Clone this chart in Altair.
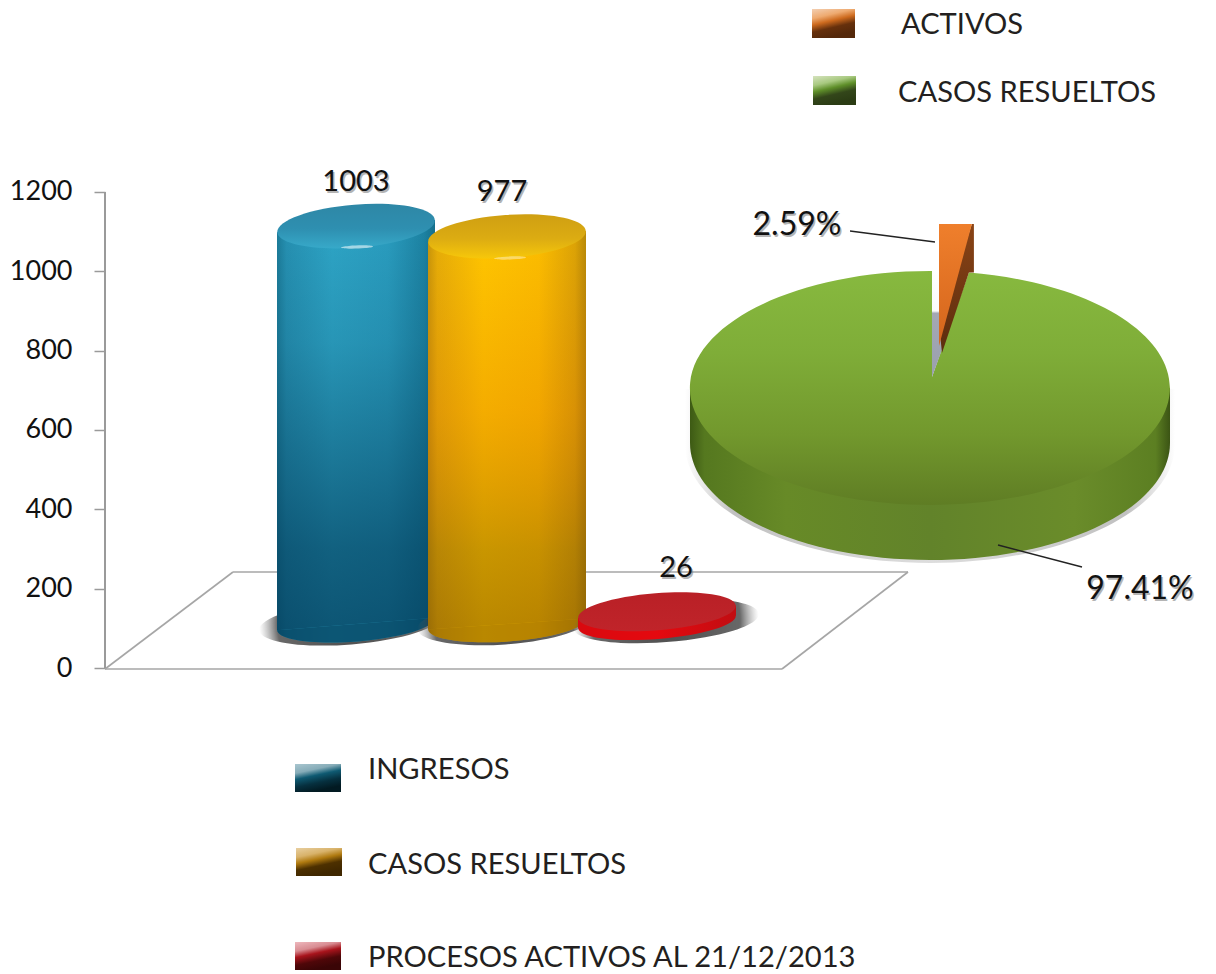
import math
import altair as alt
import pandas as pd

# ---- chart values ----
bar_names = ["INGRESOS", "CASOS RESUELTOS", "PROCESOS ACTIVOS AL 21/12/2013"]
bar_values = [1003, 977, 26]
pie_names = ["ACTIVOS", "CASOS RESUELTOS"]
pie_shares = [2.59, 97.41]
axis_ticks = [0, 200, 400, 600, 800, 1000, 1200]

# ---- layout (page pixels) ----
PX0, PY0, W, H = 105, 8, 1100, 966
Y0, K = 668.0, 0.3967


def V(py):
    return (Y0 - py) / K


xs = alt.Scale(domain=[PX0, PX0 + W], range=[0, W], nice=False, zero=False)
ys = alt.Scale(domain=[V(PY0 + H), V(PY0)], nice=False, zero=False)
X = lambda f="x": alt.X(f"{f}:Q", scale=xs, axis=None)
Yc = lambda f="y": alt.Y(f"{f}:Q", scale=ys, axis=None)


def lin(stops, x1=0, y1=0, x2=0, y2=1):
    return {"gradient": "linear", "x1": x1, "y1": y1, "x2": x2, "y2": y2,
            "stops": [{"offset": o, "color": c} for o, c in stops]}


def rad(stops):
    return {"gradient": "radial", "stops": [{"offset": o, "color": c} for o, c in stops]}


def ell(a, b, rot=0.0):
    r = math.radians(rot)
    dx, dy = a * math.cos(r), a * math.sin(r)
    return (f"M{-dx:.2f},{-dy:.2f} A{a},{b} {rot} 1 1 {dx:.2f},{dy:.2f} "
            f"A{a},{b} {rot} 1 1 {-dx:.2f},{-dy:.2f} Z")


def sym(path, fill, x, py, opacity=1.0):
    d = pd.DataFrame({"x": [x], "y": [V(py)]})
    return alt.Chart(d).mark_point(shape=path, size=4, filled=True, fill=fill, opacity=opacity,
                                   strokeWidth=0).encode(x=X(), y=Yc())


def txt(s, x, py, size, color="#111", align="center", font="Lato", dx=0, dy=0, opacity=1.0, weight=400):
    d = pd.DataFrame({"x": [x], "y": [V(py)], "t": [s]})
    return alt.Chart(d).mark_text(font=font, fontSize=size, color=color, align=align, baseline="middle",
                                  dx=dx, dy=dy, opacity=opacity, fontWeight=weight).encode(
        x=X(), y=Yc(), text="t:N")


def shadow_txt(s, x, py, size, align="center"):
    return [txt(s, x, py, size, color="#777", align=align, dx=1.5, dy=1.5, opacity=0.55),
            txt(s, x, py, size, align=align)]


def line(x1, y1, x2, y2, color="#a6a6a6", w=1.6):
    d = pd.DataFrame({"x": [x1], "x2": [x2], "y": [V(y1)], "y2": [V(y2)]})
    return alt.Chart(d).mark_rule(color=color, strokeWidth=w).encode(
        x=X(), x2="x2:Q", y=Yc(), y2="y2:Q")


def swatch(x1, x2, y1, y2, stops):
    d = pd.DataFrame({"x": [x1], "x2": [x2], "y": [V(y1)], "y2": [V(y2)]})
    return alt.Chart(d).mark_rect(fill=lin(stops, 0, 0, 0.35, 1)).encode(
        x=X(), x2="x2:Q", y=Yc(), y2="y2:Q")


def cylinder(value, cx, a, b, bb, rot, base_y, side, vert, end_overlay, capfill, shadow):
    tilt = a * math.tan(math.radians(-rot)) / K
    base = V(base_y)
    top = base + value
    d = pd.DataFrame({"x": [cx - a, cx + a],
                      "y": [top - tilt, top + tilt],
                      "y2": [base - tilt, base + tilt]})
    py_top = Y0 - top * K
    out = []
    if shadow:
        out.append(sym(ell(a + shadow[0], bb + 4, rot),
                       rad([(0, "rgba(30,30,30,0.8)"), (0.8, "rgba(40,40,40,0.7)"), (1, "rgba(110,110,110,0)")]),
                       cx + shadow[1], base_y - 1))
    sidefill = lin(side, 0, 0, 1, 0)
    out.append(sym(ell(a, bb, rot), sidefill, cx, base_y))
    if end_overlay:
        out.append(sym(ell(a, bb, rot), end_overlay, cx, base_y))
    out.append(alt.Chart(d).mark_area(fill=sidefill).encode(x=X(), y=Yc(), y2="y2:Q"))
    if vert:
        out.append(alt.Chart(d).mark_area(fill=lin(vert)).encode(x=X(), y=Yc(), y2="y2:Q"))
    out.append(sym(ell(a, b, rot), capfill, cx, py_top))
    return out


layers = []

# axis first so that its ticks and labels exist as a real axis
dticks = pd.DataFrame({"x": [105] * len(axis_ticks), "v": axis_ticks})
layers.append(alt.Chart(dticks).mark_point(opacity=0).encode(
    x=X(),
    y=alt.Y("v:Q", scale=ys, axis=alt.Axis(values=axis_ticks, title=None, domain=False, grid=False, orient="left",
                                           tickSize=11, tickColor="#9a9a9a", tickWidth=1.5,
                                           labelFont="Lato", labelFontSize=27, labelColor="#111",
                                           labelPadding=22, labelBaseline="middle", labelFlush=False,
                                           labelOverlap=False, format="d"))))

# floor and value axis line
layers += [line(105, 669, 233, 572), line(233, 572, 908, 572),
           line(908, 572, 782, 669), line(782, 669, 105, 669)]
dax = pd.DataFrame({"x": [105], "y": [0], "y2": [1200]})
layers.append(alt.Chart(dax).mark_rule(color="#9a9a9a", strokeWidth=2).encode(x=X(), y=Yc(), y2="y2:Q"))

# teal cylinder
layers += cylinder(bar_values[0], 356, 79, 21.5, 17.5, -4.5, 624,
                   [(0, "#1c7c99"), (0.06, "#2691b2"), (0.35, "#2ea5c6"), (0.7, "#2a9dbf"),
                    (0.93, "#1d83a3"), (1, "#15708c")],
                   [(0, "rgba(0,55,85,0)"), (0.3, "rgba(0,55,85,0.14)"), (0.8, "rgba(0,55,85,0.62)"),
                    (1, "rgba(0,55,85,0.72)")],
                   "rgba(0,55,85,0.72)",
                   lin([(0, "#2e87a6"), (0.55, "#2e8fb0"), (1, "#37a9c9")]),
                   (12, -6))
layers.append(sym(ell(16, 1.6, -2), "rgba(255,255,255,0.55)", 357, 247))

# gold cylinder
layers += cylinder(bar_values[1], 507, 79, 21.5, 17.5, -4, 624,
                   [(0, "#c8960a"), (0.06, "#e6ae08"), (0.35, "#ffc600"), (0.7, "#fcbe00"),
                    (0.93, "#dca406"), (1, "#b98a08")],
                   [(0, "rgba(200,70,0,0)"), (0.45, "rgba(200,70,0,0.2)"), (0.8, "rgba(100,60,0,0.35)"),
                    (1, "rgba(100,60,0,0.45)")],
                   "rgba(100,60,0,0.45)",
                   lin([(0, "#cf9f12"), (0.55, "#dcac12"), (1, "#f7c70a")]),
                   (8, -3))
layers.append(sym(ell(16, 1.6, -2), "rgba(255,255,255,0.4)", 510, 258))

# red disc
layers += cylinder(bar_values[2], 657, 79, 18.5, 17, -4.5, 622,
                   [(0, "#d9090f"), (0.5, "#e5090f"), (1, "#c10d12")],
                   None, None,
                   lin([(0, "#b92026"), (1, "#c0242a")]),
                   (14, 9))

# pie
CX, CY, A, B, DEPTH = 930, 388, 240, 117, 55
s0 = pie_shares[0] / 100
ang = 2 * math.pi * s0
rim_x = A * math.sin(ang)
rim_y = -B * math.cos(ang)
apx, apy = 2, -11  # apex of notch relative to pie centre

side_path = f"M{-A},0 L{-A},{DEPTH} A{A},{B} 0 0 0 {A},{DEPTH} L{A},0 Z"
top_path = f"M{apx},{apy} L{rim_x:.2f},{rim_y:.2f} A{A},{B} 0 1 1 {apx},{-B} Z"

layers.append(sym(f"M{-A-5},0 L{-A-5},{DEPTH} A{A+5},{B+2} 0 0 0 {A+5},{DEPTH} L{A+5},0 Z",
                  lin([(0, "rgba(130,130,130,0)"), (0.1, "rgba(130,130,130,0.5)"), (0.5, "rgba(170,170,170,0.4)"),
                       (0.9, "rgba(130,130,130,0.5)"), (1, "rgba(130,130,130,0)")], 0, 0, 1, 0),
                  CX, CY + 1))
layers.append(sym(side_path, lin([(0, "#3d5a14"), (0.03, "#55781f"), (0.2, "#678a27"), (0.5, "#62832a"),
                                  (0.8, "#6a8c2a"), (0.97, "#5c7f22"), (1, "#3b5414")], 0, 0, 1, 0), CX, CY))
layers.append(sym(top_path, lin([(0, "#87b93f"), (0.35, "#7fad38"), (0.7, "#72982d"), (1, "#5f7d24")]), CX, CY))
layers.append(sym("M-149,92 A240,117 0 0 0 -68,112 A240,118.5 0 0 1 -149,92 Z", "rgba(205,232,130,0.8)", CX, CY))

# grey sliver and exploded orange wedge
W0X, W0Y = 939, 224
wd = rim_x - 6
layers.append(sym("M-7,43 L0,43 L0,100 L8,112 L-7,153 Z",
                  lin([(0, "#ffffff"), (0.4, "#fbfbfb"), (0.42, "#a4a8b4"), (1, "#9aa0ae")]),
                  W0X, W0Y))
layers.append(sym(f"M{wd:.1f},0 L{wd + 2:.1f},0 L{wd + 2:.1f},48.5 L{wd - 3:.1f},48.5 L3,129 L0,100 Z",
                  lin([(0, "#8a4416"), (1, "#5b2c0e")]), W0X, W0Y))
layers.append(sym(f"M0,0 L{wd:.1f},0 L0,122 Z", lin([(0, "#ef7f2c"), (1, "#d4651c")]), W0X, W0Y))

# leader lines
layers += [line(850, 231, 935, 242, color="#222", w=1.3), line(998, 545, 1082, 567, color="#222", w=1.3)]

# value labels
layers += shadow_txt(str(bar_values[0]), 356, 182, 29)
layers += shadow_txt(str(bar_values[1]), 502, 192, 29)
layers += shadow_txt(str(bar_values[2]), 676, 568, 29)
layers += shadow_txt(f"{pie_shares[0]:.2f}%", 797, 225, 32)
layers += shadow_txt(f"{pie_shares[1]:.2f}%", 1140, 589, 32)

# legends
layers += [
    swatch(295, 341, 764, 792, [(0, "#a9c6cf"), (0.3, "#86acb8"), (0.5, "#0f5a72"), (0.75, "#06303f"), (1, "#021a22")]),
    swatch(296, 342, 848, 876, [(0, "#e8cfa0"), (0.3, "#d8b26a"), (0.5, "#b07a10"), (0.72, "#4d3000"), (1, "#3f2700")]),
    swatch(295, 341, 942, 970, [(0, "#eeb8bd"), (0.3, "#d88c92"), (0.5, "#a8141c"), (0.75, "#4f0709"), (1, "#3a0506")]),
    swatch(812, 855, 9, 38, [(0, "#f3cfb2"), (0.3, "#eeaa70"), (0.5, "#cd6a1e"), (0.72, "#66300c"), (1, "#54280a")]),
    swatch(813, 856, 76, 105, [(0, "#d6e3bf"), (0.3, "#a8c980"), (0.5, "#5f8f2a"), (0.72, "#33461a"), (1, "#2b3c14")]),
]
LEG = "#231f20"
LS = 29.1
layers += [
    txt(bar_names[0], 368, 770, LS, LEG, "left"),
    txt(bar_names[1], 368, 865, LS, LEG, "left"),
    txt(bar_names[2], 368, 958, LS, LEG, "left"),
    txt(pie_names[0], 901, 25, LS, LEG, "left"),
    txt(pie_names[1], 898, 93, LS, LEG, "left"),
]

chart = alt.layer(*layers).resolve_axis(y="independent").properties(
    width=W, height=H,
    padding={"left": PX0 - 8, "top": 0, "right": 0, "bottom": 0},
    autosize=alt.AutoSizeParams(type="none"),
    background="#ffffff",
).configure_view(stroke=None)

chart.save("out.html", embed_options={"renderer": "svg", "actions": False})
